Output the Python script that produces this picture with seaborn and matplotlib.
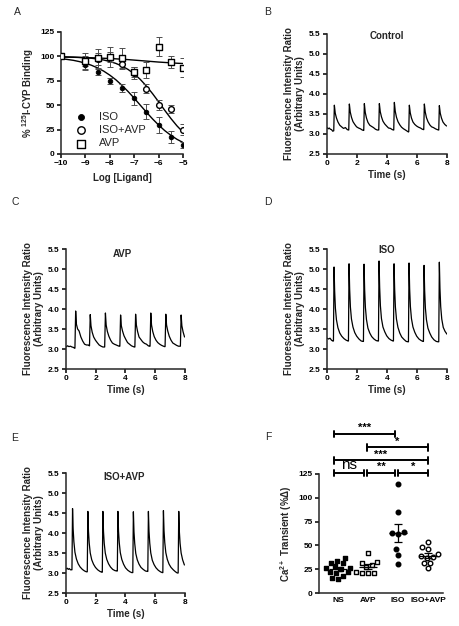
import numpy as np
import pandas as pd
import seaborn as sns
import matplotlib.pyplot as plt

# ================= DATA =================
# Panel A: competition binding (mean +/- SEM)
log_ligand = [-10, -9, -8.5, -8, -7.5, -7, -6.5, -6, -5.5, -5]
iso_mean = [100, 91, 84, 75, 68, 57, 43.5, 30, 17.5, 9]
iso_sem = [2, 5, 3, 3, 4, 7, 8, 8, 6, 3]
isoavp_mean = [100, 95, 97, 99, 92, 83, 67, 50, 46, 25]
isoavp_sem = [2, 5, 6, 5, 5, 6, 5, 5, 4, 6]
avp_mean = [100, 95.5, 98, 99.5, 98.5, 84, 86, 110, 94, 88.5]
avp_sem = [3, 8, 10, 10, 10, 5, 8, 10, 6, 10]

# fitted curves
fit_x = [-10, -9.75, -9.5, -9.25, -9, -8.75, -8.5, -8.25, -8, -7.75, -7.5,
         -7.25, -7, -6.75, -6.5, -6.25, -6, -5.75, -5.5, -5.25, -5]
iso_fit = [97.7, 96.9, 96.0, 94.7, 93.0, 90.9, 88.2, 84.9, 80.8, 76.0, 70.3,
           64.0, 57.2, 50.0, 42.9, 36.0, 29.7, 24.0, 19.2, 15.1, 11.8]
isoavp_fit = [99.7, 99.5, 99.3, 99.0, 98.6, 98.1, 97.3, 96.3, 94.8, 92.8, 90.1,
              86.6, 82.1, 76.4, 69.6, 61.9, 53.5, 44.8, 36.5, 28.9, 22.4]
avp_fit = [99.3, 99.2, 99.1, 98.9, 98.8, 98.6, 98.4, 98.1, 97.8, 97.5, 97.1,
           96.7, 96.2, 95.7, 95.2, 94.7, 94.2, 93.8, 93.4, 93.0, 92.7]

# Panels B-E: calcium transients, pre-beat segment + beats
ctrl_pre_t = [0, 0.08, 0.15, 0.22, 0.30, 0.38]
ctrl_pre_v = [3.16, 3.13, 3.15, 3.12, 3.11, 3.07]
ctrl_onsets = [0.45, 1.45, 2.45, 3.45, 4.45, 5.45, 6.45, 7.45]
ctrl_offsets = [0, 0.04, 0.10, 0.18, 0.28, 0.40, 0.52, 0.65, 0.78, 0.90, 0.98]
ctrl_beats = [
    [3.08, 3.72, 3.52, 3.40, 3.30, 3.22, 3.18, 3.14, 3.16, 3.11, 3.10],
    [3.10, 3.75, 3.55, 3.42, 3.31, 3.24, 3.18, 3.15, 3.13, 3.10, 3.09],
    [3.09, 3.76, 3.54, 3.40, 3.29, 3.22, 3.19, 3.16, 3.12, 3.10, 3.10],
    [3.10, 3.76, 3.56, 3.43, 3.32, 3.25, 3.20, 3.15, 3.14, 3.11, 3.10],
    [3.10, 3.79, 3.57, 3.42, 3.31, 3.23, 3.17, 3.13, 3.10, 3.07, 3.05],
    [3.06, 3.72, 3.53, 3.40, 3.30, 3.24, 3.20, 3.17, 3.15, 3.12, 3.11],
    [3.11, 3.75, 3.55, 3.41, 3.31, 3.23, 3.18, 3.16, 3.13, 3.11, 3.10],
    [3.10, 3.71, 3.52, 3.40, 3.30, 3.24, 3.20],
]

avp_pre_t = [0, 0.10, 0.20, 0.30, 0.40, 0.50, 0.57]
avp_pre_v = [3.05, 3.08, 3.06, 3.07, 3.05, 3.04, 3.02]
avp_onsets = [0.60, 1.58, 2.60, 3.62, 4.63, 5.65, 6.66, 7.69]
avp_offsets = [0, 0.05, 0.10, 0.18, 0.28, 0.40, 0.52, 0.65, 0.78, 0.90, 0.97]
avp_beats = [
    [3.02, 3.95, 3.62, 3.50, 3.45, 3.30, 3.20, 3.12, 3.10, 3.10, 3.08],
    [3.08, 3.86, 3.58, 3.42, 3.30, 3.22, 3.16, 3.10, 3.07, 3.05, 3.05],
    [3.05, 3.90, 3.60, 3.44, 3.32, 3.22, 3.15, 3.12, 3.10, 3.08, 3.07],
    [3.07, 3.85, 3.58, 3.45, 3.33, 3.24, 3.16, 3.12, 3.08, 3.06, 3.05],
    [3.05, 3.87, 3.60, 3.44, 3.30, 3.24, 3.18, 3.14, 3.12, 3.08, 3.07],
    [3.07, 3.90, 3.60, 3.44, 3.31, 3.22, 3.16, 3.12, 3.09, 3.07, 3.06],
    [3.06, 3.87, 3.60, 3.45, 3.32, 3.22, 3.15, 3.12, 3.09, 3.07, 3.07],
    [3.07, 3.85, 3.58, 3.43, 3.30],
]

iso_pre_t = [0, 0.10, 0.20, 0.30, 0.38]
iso_pre_v = [3.27, 3.25, 3.27, 3.22, 3.20]
iso_onsets = [0.43, 1.43, 2.43, 3.43, 4.43, 5.43, 6.43, 7.45]
iso_offsets = [0, 0.04, 0.08, 0.13, 0.20, 0.30, 0.42, 0.55, 0.70, 0.85, 0.97]
iso_beats = [
    [3.20, 5.05, 4.45, 4.02, 3.73, 3.53, 3.40, 3.32, 3.26, 3.22, 3.20],
    [3.20, 5.13, 4.50, 4.05, 3.75, 3.55, 3.41, 3.32, 3.25, 3.20, 3.19],
    [3.19, 5.12, 4.48, 4.04, 3.74, 3.52, 3.40, 3.31, 3.25, 3.21, 3.20],
    [3.20, 5.20, 4.55, 4.08, 3.76, 3.55, 3.43, 3.33, 3.26, 3.22, 3.20],
    [3.20, 5.13, 4.50, 4.05, 3.75, 3.54, 3.40, 3.30, 3.24, 3.19, 3.18],
    [3.18, 5.15, 4.50, 4.06, 3.76, 3.55, 3.42, 3.32, 3.25, 3.21, 3.19],
    [3.19, 5.09, 4.46, 4.02, 3.73, 3.52, 3.40, 3.30, 3.23, 3.19, 3.18],
    [3.18, 5.17, 4.52, 4.06, 3.75, 3.54, 3.44, 3.37],
]

combo_pre_t = [0, 0.08, 0.15, 0.22, 0.30, 0.37]
combo_pre_v = [3.10, 3.12, 3.09, 3.11, 3.08, 3.08]
combo_onsets = [0.40, 1.43, 2.44, 3.45, 4.49, 5.50, 6.51, 7.54]
combo_offsets = [0, 0.04, 0.08, 0.13, 0.20, 0.30, 0.42, 0.55, 0.70, 0.85, 0.97]
combo_beats = [
    [3.08, 4.61, 4.10, 3.78, 3.52, 3.35, 3.23, 3.15, 3.09, 3.05, 3.03],
    [3.03, 4.54, 4.05, 3.75, 3.50, 3.33, 3.22, 3.14, 3.08, 3.04, 3.02],
    [3.02, 4.54, 4.04, 3.74, 3.50, 3.34, 3.23, 3.15, 3.09, 3.06, 3.05],
    [3.05, 4.54, 4.05, 3.76, 3.51, 3.34, 3.22, 3.13, 3.07, 3.03, 3.01],
    [3.01, 4.53, 4.03, 3.74, 3.49, 3.33, 3.22, 3.14, 3.09, 3.05, 3.04],
    [3.04, 4.54, 4.05, 3.75, 3.50, 3.32, 3.21, 3.13, 3.07, 3.03, 3.01],
    [3.01, 4.56, 4.06, 3.76, 3.51, 3.34, 3.22, 3.14, 3.08, 3.03, 3.00],
    [3.00, 4.54, 4.04, 3.74, 3.50, 3.33, 3.20],
]

# Panel F: Ca2+ transient amplitude per cell
groups = ["NS", "AVP", "ISO", "ISO+AVP"]
ns_vals = [37, 34, 32, 31, 28, 26, 26, 25, 22, 22, 21, 18, 16, 15]
avp_vals = [42, 33, 32, 29, 27, 22, 21, 21, 21]
iso_vals = [114, 85, 64, 62, 63, 46, 40, 30]
combo_vals = [54, 48, 46, 41, 39, 38, 37, 32, 31, 26]
# ========================================

sns.set_style("ticks")
plt.rcParams['font.family'] = ['Liberation Sans', 'DejaVu Sans']
plt.rcParams['font.weight'] = 'bold'
plt.rcParams['mathtext.fontset'] = 'custom'
plt.rcParams['mathtext.rm'] = 'Liberation Sans:bold'
plt.rcParams['mathtext.bf'] = 'Liberation Sans:bold'
plt.rcParams['axes.linewidth'] = 1.1
plt.rcParams['xtick.major.width'] = 1.1
plt.rcParams['ytick.major.width'] = 1.1
plt.rcParams['xtick.major.size'] = 3
plt.rcParams['ytick.major.size'] = 3
plt.rcParams['xtick.major.pad'] = 1.5
plt.rcParams['ytick.major.pad'] = 1.5

TICK = 6
LAB = 7

fig = plt.figure(figsize=(4.6, 6.26), dpi=100)
W, H = 460, 626


def add_ax(x0, x1, y0, y1):
    return fig.add_axes([x0 / W, 1 - y1 / H, (x1 - x0) / W, (y1 - y0) / H])


def style(ax):
    sns.despine(ax=ax)
    ax.tick_params(labelsize=TICK, colors="black")
    for lab in ax.get_xticklabels() + ax.get_yticklabels():
        lab.set_fontweight("bold")


# ---------------- Panel A ----------------
axA = add_ax(61, 183, 32, 154)
sns.lineplot(x=fit_x, y=iso_fit, color="black", lw=1, ax=axA)
sns.lineplot(x=fit_x, y=isoavp_fit, color="black", lw=1, ax=axA)
sns.lineplot(x=fit_x, y=avp_fit, color="black", lw=1, ax=axA)
for m, s in [(iso_mean, iso_sem), (isoavp_mean, isoavp_sem), (avp_mean, avp_sem)]:
    axA.errorbar(log_ligand, m, yerr=s, fmt="none", ecolor="0.3",
                 elinewidth=0.7, capsize=2, capthick=0.7)
sns.scatterplot(x=log_ligand, y=iso_mean, marker="o", s=11, color="black",
                edgecolor="black", linewidth=0.6, label="ISO", ax=axA, zorder=3)
sns.scatterplot(x=log_ligand, y=isoavp_mean, marker="o", s=17, color="white",
                edgecolor="black", linewidth=1.0, label="ISO+AVP", ax=axA, zorder=3)
sns.scatterplot(x=log_ligand, y=avp_mean, marker="s", s=17, color="white",
                edgecolor="black", linewidth=1.0, label="AVP", ax=axA, zorder=3)
axA.set_xlim(-10, -5)
axA.set_ylim(0, 125)
axA.set_xticks([-10, -9, -8, -7, -6, -5])
axA.set_yticks([0, 25, 50, 75, 100, 125])
axA.set_xlabel("Log [Ligand]", fontsize=LAB, fontweight="bold")
axA.set_ylabel(r"% $^{125}$I-CYP Binding", fontsize=LAB, fontweight="bold", labelpad=3)
leg = axA.legend(loc="lower left", frameon=False, fontsize=8, handletextpad=0.6,
                 labelspacing=0.3, borderaxespad=0.1, bbox_to_anchor=(0.03, 0.0),
                 markerscale=1.3)
for t in leg.get_texts():
    t.set_fontweight("normal")
style(axA)


# ---------------- Trace panels ----------------
def trace_frame(pre_t, pre_v, onsets, offsets, beats):
    t = list(pre_t)
    v = list(pre_v)
    for on, row in zip(onsets, beats):
        for off, val in zip(offsets, row):
            t.append(on + off)
            v.append(val)
    return pd.DataFrame({"time": t, "ratio": v})


def trace_panel(box, df, title, tx, ty):
    ax = add_ax(*box)
    sns.lineplot(data=df, x="time", y="ratio", color="black", lw=0.9, ax=ax)
    ax.set_xlim(0, 8)
    ax.set_ylim(2.5, 5.5)
    ax.set_xticks([0, 2, 4, 6, 8])
    ax.set_yticks([2.5, 3.0, 3.5, 4.0, 4.5, 5.0, 5.5])
    ax.yaxis.set_major_formatter(plt.FormatStrFormatter("%.1f"))
    ax.set_xlabel("Time (s)", fontsize=LAB, fontweight="bold", labelpad=2)
    ax.set_ylabel("Fluorescence Intensity Ratio\n(Arbitrary Units)",
                  fontsize=LAB, fontweight="bold", labelpad=3, linespacing=1.05)
    ax.text(tx, ty, title, transform=ax.transAxes, ha="center", va="center",
            fontsize=LAB, fontweight="bold")
    style(ax)
    return ax


trace_panel((327, 447, 34, 154),
            trace_frame(ctrl_pre_t, ctrl_pre_v, ctrl_onsets, ctrl_offsets, ctrl_beats),
            "Control", 0.5, 0.98)
trace_panel((66, 185, 249, 369),
            trace_frame(avp_pre_t, avp_pre_v, avp_onsets, avp_offsets, avp_beats),
            "AVP", 0.47, 0.96)
trace_panel((327, 447, 249, 369),
            trace_frame(iso_pre_t, iso_pre_v, iso_onsets, iso_offsets, iso_beats),
            "ISO", 0.5, 0.99)
trace_panel((66, 185, 473, 593),
            trace_frame(combo_pre_t, combo_pre_v, combo_onsets, combo_offsets, combo_beats),
            "ISO+AVP", 0.49, 0.97)

# ---------------- Panel F ----------------
axF = add_ax(319, 443, 474, 593)
group_vals = [ns_vals, avp_vals, iso_vals, combo_vals]
df_f = pd.DataFrame({
    "group": [g for g, v in zip(groups, group_vals) for _ in v],
    "value": [x for v in group_vals for x in v],
})
styles = [("s", "black"), ("s", "white"), ("o", "black"), ("o", "white")]
for g, (mk, fc) in zip(groups, styles):
    sns.swarmplot(data=df_f[df_f.group == g], x="group", y="value", order=groups,
                  marker=mk, color=fc, edgecolor="black", linewidth=1.0,
                  size=3.3, ax=axF, zorder=3, warn_thresh=1)
for i, v in enumerate(group_vals):
    m = np.mean(v)
    se = np.std(v, ddof=1) / np.sqrt(len(v))
    axF.hlines(m, i - 0.3, i + 0.3, color="black", lw=0.9, zorder=4)
    axF.errorbar(i, m, yerr=se, fmt="none", ecolor="black", elinewidth=0.9,
                 capsize=3, capthick=0.9, zorder=4)
axF.set_xlim(-0.63, 3.5)
axF.set_ylim(0, 125)
axF.set_yticks([0, 25, 50, 75, 100, 125])
axF.set_xlabel("")
axF.set_ylabel(r"Ca$^{2+}$ Transient (%$\Delta$)", fontsize=LAB, fontweight="bold", labelpad=3)
style(axF)
axF.tick_params(axis="x", length=0, pad=3)

# significance bars
sig = [
    (-0.13, 0.86, 126, "ns", 11, "normal"),
    (0.97, 1.9, 126, "**", 8, "bold"),
    (2.0, 3.0, 126, "*", 8, "bold"),
    (-0.13, 3.0, 139.5, "***", 8, "bold"),
    (0.97, 3.0, 153, "*", 8, "bold"),
    (-0.13, 1.9, 167, "***", 8, "bold"),
]
for x0, x1, y, lab, fs, fw in sig:
    axF.plot([x0, x1], [y, y], color="black", lw=1.4, clip_on=False)
    axF.plot([x0, x0], [y - 3.5, y + 3.5], color="black", lw=1.4, clip_on=False)
    axF.plot([x1, x1], [y - 3.5, y + 3.5], color="black", lw=1.4, clip_on=False)
    axF.text((x0 + x1) / 2, y + 0.8, lab, ha="center", va="bottom", fontsize=fs,
             fontweight=fw, clip_on=False, color="black")

# ---------------- Panel letters ----------------
for letter, (px, py) in {"A": (17, 12), "B": (268, 12), "C": (15, 202),
                         "D": (268, 202), "E": (15, 438), "F": (268, 437)}.items():
    fig.text(px / W, 1 - py / H, letter, fontsize=7.5, fontweight="normal",
             ha="center", va="center", color="0.15")

plt.savefig("out.png", dpi=100)
